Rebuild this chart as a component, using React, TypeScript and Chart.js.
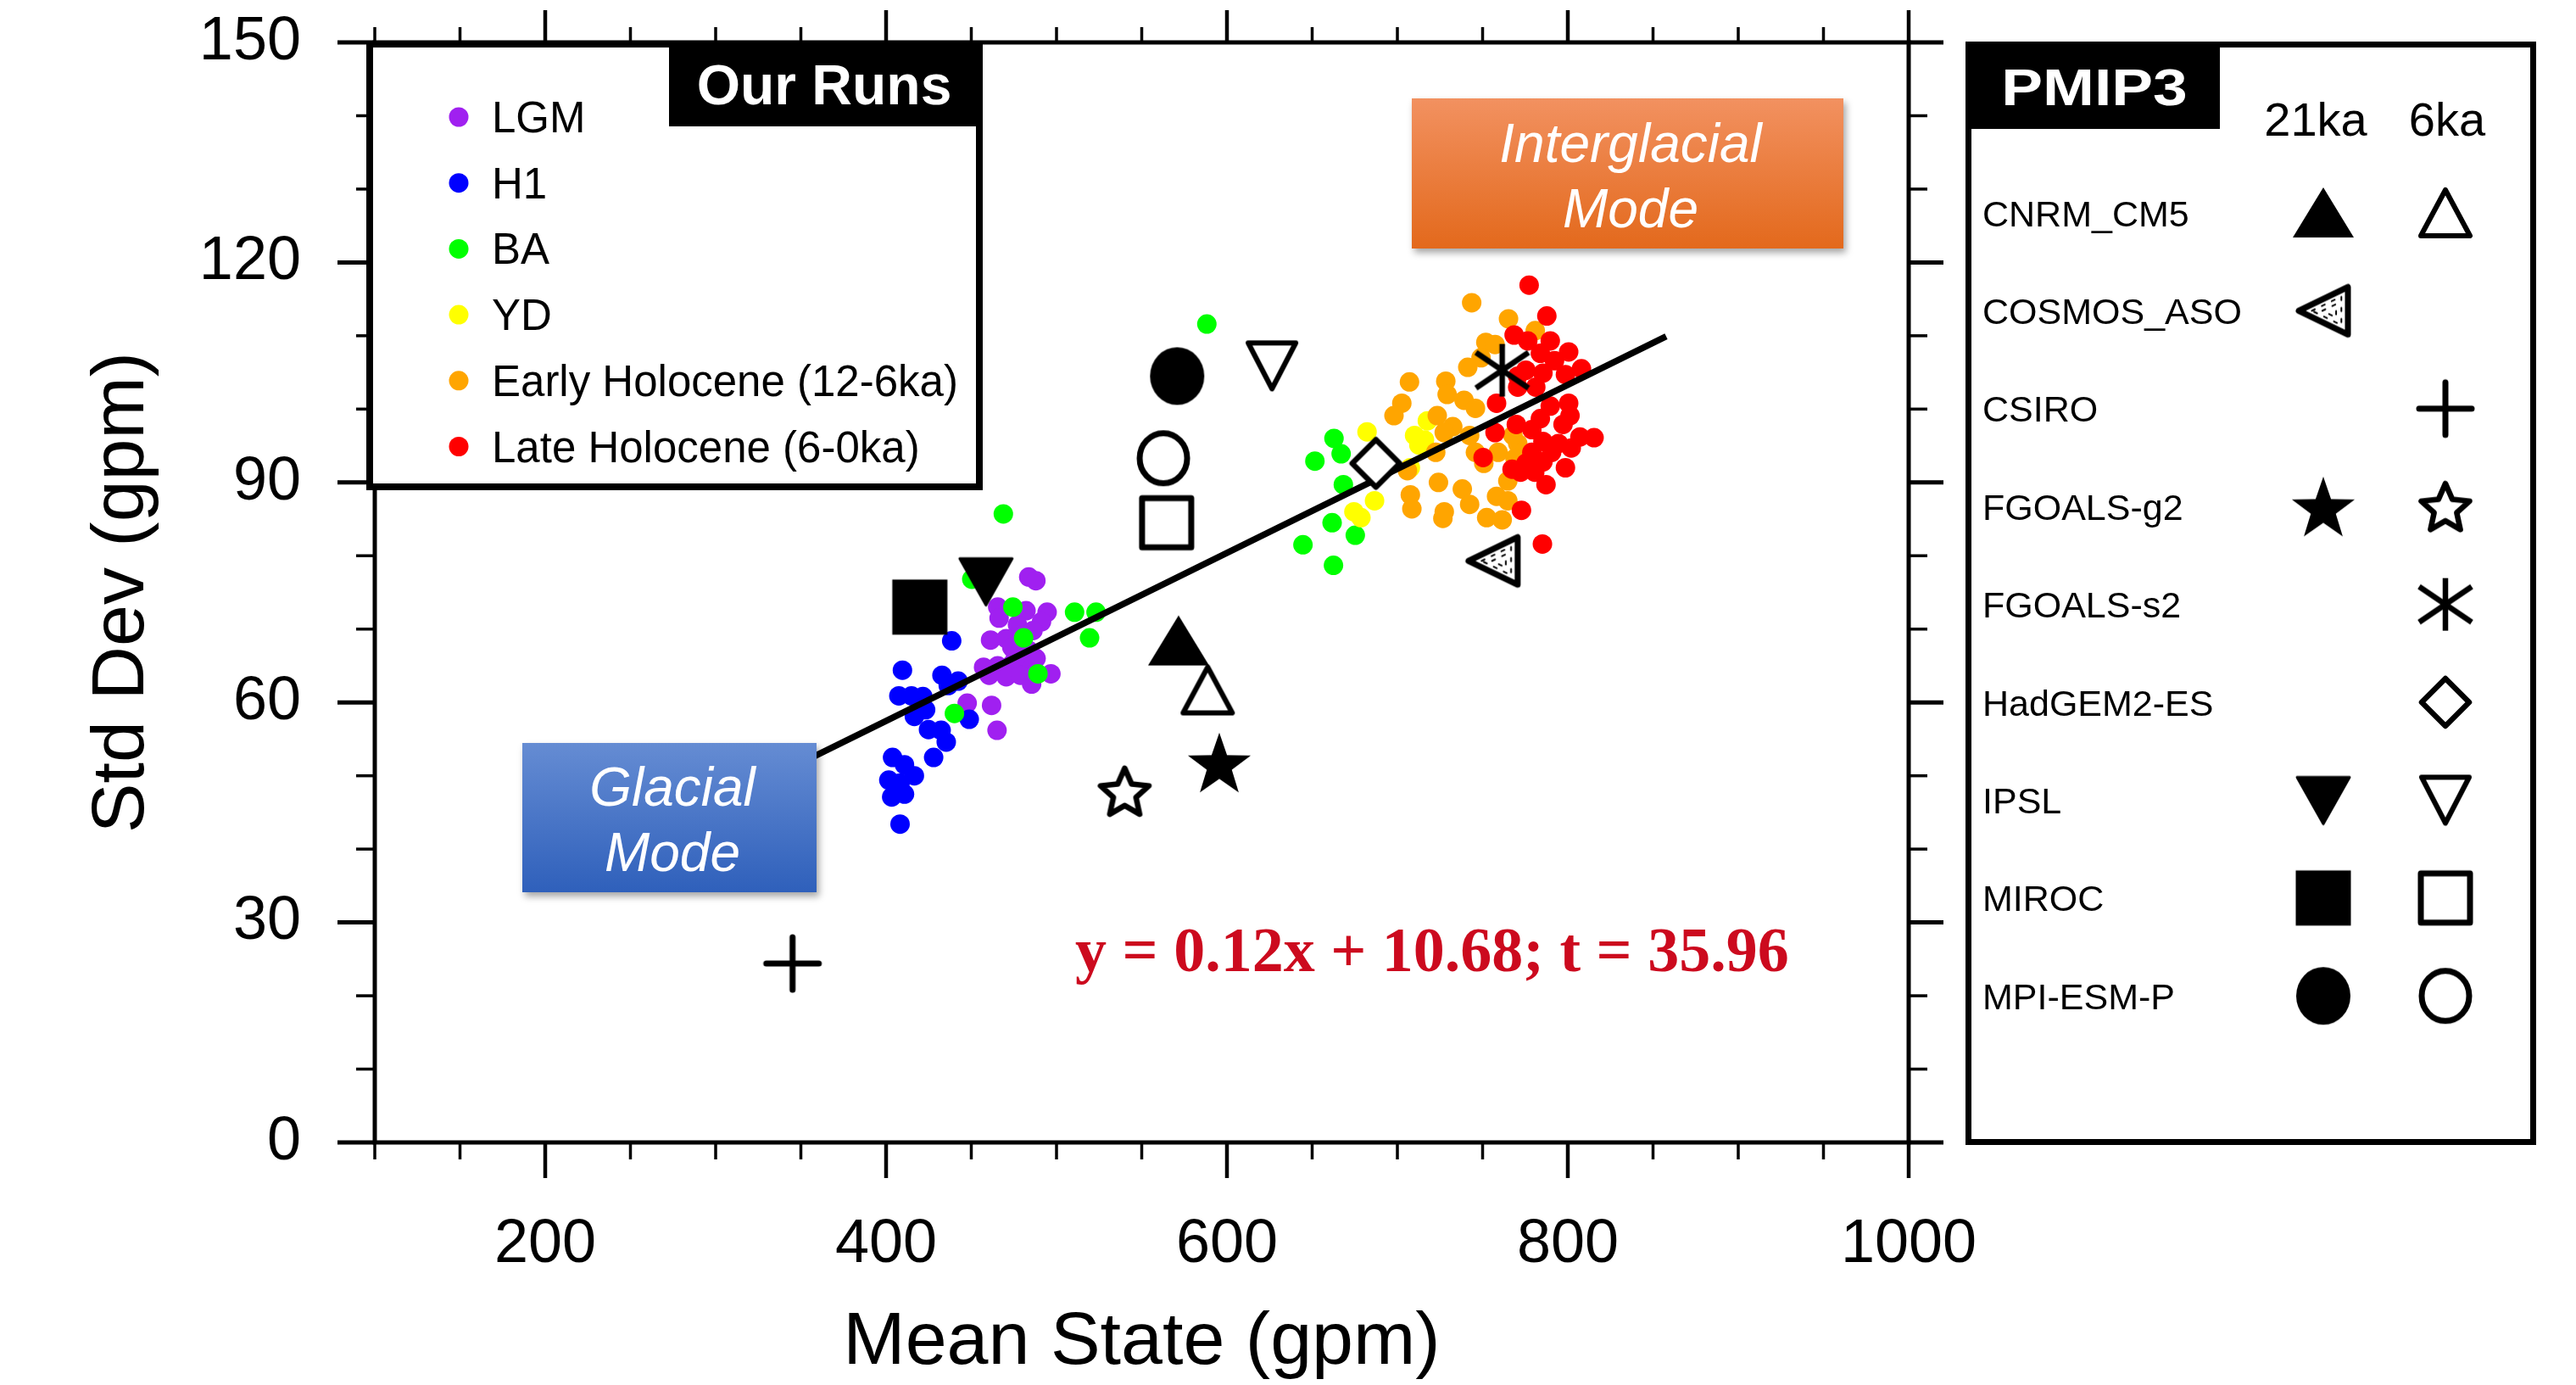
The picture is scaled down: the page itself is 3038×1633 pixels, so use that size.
import React, { useEffect, useRef } from 'react';
import { Chart, registerables } from 'chart.js';

Chart.register(...registerables);

const SANS = '"Liberation Sans", Arial, Helvetica, sans-serif';
const SERIF = '"Liberation Serif", "Times New Roman", serif';

// ---------------- Our runs ----------------
const groupLabels = ['LGM', 'H1', 'BA', 'YD', 'Early Holocene (12-6ka)', 'Late Holocene (6-0ka)'];
const groupColors = ['#a020f0', '#0000ff', '#00ff00', '#ffff00', '#ffa500', '#ff0000'];

const lgmMean = [483.7, 487.9, 465.5, 482.1, 494.5, 466.3, 477.1, 491.2, 486.2, 461.3, 470.5, 473.8, 483.7, 457.2, 465.5, 473.8, 482.1, 460.5, 470.5, 478.8, 496.7, 485.4, 447.6, 461.9, 465.1, 488.0, 476.0];
const lgmStd = [77.1, 76.6, 73.0, 72.5, 72.3, 71.5, 70.6, 71.0, 69.8, 68.5, 68.7, 67.5, 67.1, 64.8, 65.0, 65.2, 65.6, 63.7, 63.5, 63.7, 63.9, 62.5, 59.9, 59.6, 56.2, 66.0, 66.2];

const h1Mean = [438.5, 409.6, 432.8, 442.3, 436.5, 407.5, 414.9, 421.6, 423.2, 416.6, 448.8, 424.9, 432.3, 435.3, 427.9, 403.8, 410.8, 416.6, 401.6, 408.2, 410.8, 403.3, 408.2];
const h1Std = [68.4, 64.4, 63.7, 62.9, 62.3, 60.9, 60.9, 60.8, 59.0, 58.1, 57.7, 56.3, 56.2, 54.6, 52.5, 52.5, 51.5, 50.0, 49.4, 49.0, 47.5, 47.1, 43.4];

const baMean = [468.8, 450.3, 474.4, 510.6, 523.2, 519.4, 480.7, 489.1, 440.1, 588.2, 662.8, 667.0, 651.6, 668.3, 661.7, 675.3, 644.6, 662.5];
const baStd = [85.7, 76.8, 73.0, 72.3, 72.3, 68.8, 68.8, 63.9, 58.5, 111.6, 96.0, 93.9, 92.9, 89.7, 84.5, 82.8, 81.5, 78.7];

const ydMean = [682.2, 717.6, 710.1, 715.9, 712.6, 707.6, 686.6, 674.5, 678.6];
const ydStd = [96.9, 98.4, 96.4, 95.8, 95.1, 92.0, 87.5, 86.0, 85.2];

const ehMean = [743.6, 765.2, 780.9, 751.9, 757.3, 749.1, 741.3, 707.1, 728.4, 729.2, 702.6, 698.0, 723.4, 739.1, 745.8, 732.5, 727.5, 742.4, 722.5, 745.8, 759.1, 770.6, 769.0, 750.7, 705.9, 724.1, 764.8, 738.1, 707.6, 708.5, 742.4, 758.2, 764.8, 727.5, 726.7, 752.4, 761.5, 767.8];
const ehStd = [114.5, 112.3, 110.7, 109.1, 108.8, 107.0, 105.7, 103.7, 103.8, 102.0, 100.8, 99.1, 99.1, 101.2, 100.1, 97.6, 96.8, 96.4, 94.1, 94.1, 94.1, 95.3, 93.3, 92.6, 91.6, 90.0, 90.2, 89.1, 88.3, 86.4, 87.0, 88.1, 87.5, 86.0, 85.1, 85.2, 84.9, 96.4];

const lhMean = [777.3, 787.7, 768.5, 776.5, 789.7, 800.5, 783.9, 792.2, 808.0, 775.4, 785.4, 798.6, 770.6, 758.2, 800.5, 789.7, 801.3, 783.9, 769.8, 797.2, 757.3, 778.9, 807.1, 815.4, 785.4, 794.5, 802.0, 778.9, 790.5, 750.3, 775.4, 785.4, 767.3, 798.6, 772.3, 780.6, 787.2, 772.8, 785.1, 770.6, 781.2];
const lhStd = [116.9, 112.7, 110.1, 109.3, 109.3, 107.8, 107.6, 106.6, 105.5, 105.3, 104.9, 104.7, 103.0, 100.8, 100.8, 100.4, 99.1, 98.7, 97.9, 97.9, 96.8, 97.2, 96.2, 96.1, 95.6, 95.3, 94.7, 94.1, 94.1, 93.4, 92.6, 92.8, 91.8, 92.0, 91.4, 91.4, 89.7, 86.2, 81.6, 104.5, 103.0];

// ---------------- PMIP3 ----------------
const pmipModels = ['CNRM_CM5', 'COSMOS_ASO', 'CSIRO', 'FGOALS-g2', 'FGOALS-s2', 'HadGEM2-ES', 'IPSL', 'MIROC', 'MPI-ESM-P'];
const pmip21kaMean = [571.6, 756.1, null, 595.5, null, null, 458.6, 419.8, 570.8];
const pmip21kaStd = [68.4, 79.3, null, 51.8, null, null, 76.5, 73.0, 104.5];
const pmip6kaMean = [588.7, null, 345.1, 540.0, 761.5, 687.4, 626.4, 564.6, 562.7];
const pmip6kaStd = [61.7, null, 24.4, 47.9, 105.3, 92.6, 105.9, 84.5, 93.3];
const pmip21kaStyle = ['triUpFilled', 'triLeft', null, 'starFilled', null, null, 'triDownFilled', 'squareFilled', 'circleFilled'];
const pmip6kaStyle = ['triUpOpen', null, 'plus', 'starOpen', 'asterisk', 'diamond', 'triDownOpen', 'squareOpen', 'circleOpen'];
const periodLabels = ['21ka', '6ka'];

// ---------------- regression ----------------
const regressionMean = [199.5, 857.7];
const regressionStd = [34.5, 109.9];
const equationText = 'y = 0.12x + 10.68; t = 35.96';

// ---------------- axes ----------------
const xMin = 100, xMax = 1000, xStep = 50;
const yMin = 0, yMax = 150, yStep = 10;
const xTickLabels = [200, 400, 600, 800, 1000];
const yTickLabels = [0, 30, 60, 90, 120, 150];
const xTitle = 'Mean State (gpm)';
const yTitle = 'Std Dev (gpm)';

const zip = (xs: number[], ys: number[]) => xs.map((x, i) => ({ x, y: ys[i] }));

function mk(draw: (c: CanvasRenderingContext2D) => void) {
  const c = document.createElement('canvas');
  c.width = 90;
  c.height = 90;
  const ctx = c.getContext('2d')!;
  ctx.translate(45, 45);
  ctx.fillStyle = '#000';
  ctx.strokeStyle = '#000';
  ctx.lineJoin = 'round';
  ctx.lineCap = 'round';
  draw(ctx);
  return c;
}

function poly(ctx: CanvasRenderingContext2D, pts: number[][]) {
  ctx.beginPath();
  pts.forEach((p, i) => (i ? ctx.lineTo(p[0], p[1]) : ctx.moveTo(p[0], p[1])));
  ctx.closePath();
}

function starPath(ctx: CanvasRenderingContext2D, R: number, r: number) {
  const pts: number[][] = [];
  for (let k = 0; k < 10; k++) {
    const a = -Math.PI / 2 + (k * Math.PI) / 5;
    const rad = k % 2 === 0 ? R : r;
    pts.push([Math.cos(a) * rad, Math.sin(a) * rad]);
  }
  poly(ctx, pts);
}

function buildMarkers(): Record<string, HTMLCanvasElement> {
  return {
    triUpFilled: mk((c) => { poly(c, [[0, -30], [36, 29], [-36, 29]]); c.fill(); }),
    triUpOpen: mk((c) => { poly(c, [[0, -27], [29, 27], [-29, 27]]); c.fillStyle = '#fff'; c.fill(); c.lineWidth = 6; c.stroke(); }),
    triDownFilled: mk((c) => { poly(c, [[-31, -27], [31, -27], [0, 28]]); c.fill(); c.lineWidth = 3; c.stroke(); }),
    triDownOpen: mk((c) => { poly(c, [[-28, -27], [28, -27], [0, 27]]); c.fillStyle = '#fff'; c.fill(); c.lineWidth = 6; c.stroke(); }),
    triLeft: mk((c) => {
      const base = [[-29, 0], [29, -28], [29, 28]];
      poly(c, base); c.fillStyle = '#fff'; c.fill(); c.lineWidth = 7; c.stroke();
      const cx = 9.7;
      [0.6, 0.28].forEach((s) => {
        poly(c, base.map((p) => [cx + (p[0] - cx) * s, p[1] * s]));
        c.lineWidth = 2; c.setLineDash([4, 9]); c.stroke();
      });
      c.setLineDash([]);
    }),
    plus: mk((c) => {
      c.lineWidth = 7; c.beginPath(); c.moveTo(-31, 0); c.lineTo(31, 0); c.moveTo(0, -31); c.lineTo(0, 31); c.stroke();
    }),
    starFilled: mk((c) => { c.translate(0, 3.7); starPath(c, 39, 15.5); c.fill(); }),
    starOpen: mk((c) => { c.translate(0, 2.9); starPath(c, 30, 14); c.fillStyle = '#fff'; c.fill(); c.lineWidth = 6.5; c.stroke(); }),
    asterisk: mk((c) => {
      c.lineWidth = 6.5; c.lineCap = 'butt'; c.beginPath();
      c.moveTo(0, -31); c.lineTo(0, 31);
      c.moveTo(-31, -21); c.lineTo(31, 21);
      c.moveTo(-31, 21); c.lineTo(31, -21);
      c.stroke();
    }),
    diamond: mk((c) => { poly(c, [[0, -28], [28, 0], [0, 28], [-28, 0]]); c.fillStyle = '#fff'; c.fill(); c.lineWidth = 6.5; c.stroke(); }),
    squareFilled: mk((c) => { c.fillRect(-32.5, -32.5, 65, 65); }),
    squareOpen: mk((c) => { c.beginPath(); c.rect(-29, -29, 58, 58); c.fillStyle = '#fff'; c.fill(); c.lineWidth = 7; c.stroke(); }),
    circleFilled: mk((c) => { c.beginPath(); c.ellipse(0, 0, 32, 34, 0, 0, Math.PI * 2); c.fill(); }),
    circleOpen: mk((c) => { c.beginPath(); c.ellipse(0, 0, 28, 29.5, 0, 0, Math.PI * 2); c.fillStyle = '#fff'; c.fill(); c.lineWidth = 7; c.stroke(); }),
  };
}

export default function App() {
  const ref = useRef<HTMLCanvasElement>(null);

  useEffect(() => {
    document.body.style.margin = '0';
    const canvas = ref.current!;
    const markers = buildMarkers();

    const groupMeans = [lgmMean, h1Mean, baMean, ydMean, ehMean, lhMean];
    const groupStds = [lgmStd, h1Std, baStd, ydStd, ehStd, lhStd];

    const datasets: any[] = [];
    groupLabels.forEach((label, i) => {
      datasets.push({
        label,
        data: zip(groupMeans[i], groupStds[i]),
        backgroundColor: groupColors[i],
        borderWidth: 0,
        pointRadius: 11.5,
        pointHoverRadius: 11.5,
        order: 20 - i,
      });
    });
    datasets.push({
      label: 'regression',
      data: zip(regressionMean, regressionStd),
      showLine: true,
      borderColor: '#000',
      borderWidth: 7.5,
      pointRadius: 0,
      pointHoverRadius: 0,
      fill: false,
      order: 2,
    });
    const periodMeans = [pmip21kaMean, pmip6kaMean];
    const periodStds = [pmip21kaStd, pmip6kaStd];
    const periodStyles = [pmip21kaStyle, pmip6kaStyle];
    pmipModels.forEach((m, i) => {
      [0, 1].forEach((p) => {
        const mx = periodMeans[p][i];
        const st = periodStyles[p][i];
        if (mx === null || !st) return;
        datasets.push({
          label: m + ' ' + periodLabels[p],
          data: [{ x: mx, y: periodStds[p][i] }],
          pointStyle: markers[st],
          pointRadius: 33,
          pointHoverRadius: 33,
          order: 1,
        });
      });
    });

    const overlay = {
      id: 'overlay',
      afterDraw(chart: any) {
        const ctx: CanvasRenderingContext2D = chart.ctx;
        const xs = chart.scales.x;
        const ys = chart.scales.y;
        const { left, right, top, bottom } = chart.chartArea;
        ctx.save();
        ctx.strokeStyle = '#000';
        ctx.lineCap = 'butt';
        const seg = (x1: number, y1: number, x2: number, y2: number) => {
          ctx.beginPath(); ctx.moveTo(x1, y1); ctx.lineTo(x2, y2); ctx.stroke();
        };
        xs.ticks.forEach((t: any) => {
          const px = xs.getPixelForValue(t.value);
          const major = xTickLabels.includes(t.value);
          ctx.lineWidth = major ? 4.5 : 3.5;
          seg(px, bottom, px, bottom + (major ? 42 : 20));
          seg(px, top, px, top - (major ? 38 : 18));
        });
        ys.ticks.forEach((t: any) => {
          const py = ys.getPixelForValue(t.value);
          const major = yTickLabels.includes(t.value);
          ctx.lineWidth = major ? 5 : 3.5;
          seg(left, py, left - (major ? 44 : 22), py);
          seg(right, py, right + (major ? 41 : 22), py);
        });
        ctx.lineWidth = 5;
        ctx.strokeRect(left, top, right - left, bottom - top);

        // ---- Our Runs legend ----
        ctx.fillStyle = '#fff';
        ctx.fillRect(432, 48, 727, 530);
        ctx.lineWidth = 8;
        ctx.strokeRect(436, 52, 719, 522);
        ctx.fillStyle = '#000';
        ctx.fillRect(789, 48, 370, 101);
        ctx.fillStyle = '#fff';
        ctx.font = 'bold 66px ' + SANS;
        ctx.textAlign = 'center';
        ctx.textBaseline = 'alphabetic';
        ctx.fillText('Our Runs', 972, 123);
        ctx.textAlign = 'left';
        ctx.font = '51px ' + SANS;
        groupLabels.forEach((label, i) => {
          const cy = 138 + i * 77.7;
          ctx.fillStyle = groupColors[i];
          ctx.beginPath();
          ctx.arc(541, cy, 11.5, 0, Math.PI * 2);
          ctx.fill();
          ctx.fillStyle = '#000';
          ctx.fillText(label, 580, cy + 18);
        });

        // ---- mode boxes ----
        const modeBox = (x: number, y: number, w: number, h: number, c1: string, c2: string, l1: string, l2: string, tx: number, b1: number, b2: number) => {
          ctx.save();
          const g = ctx.createLinearGradient(0, y, 0, y + h);
          g.addColorStop(0, c1);
          g.addColorStop(1, c2);
          ctx.shadowColor = 'rgba(0,0,0,0.35)';
          ctx.shadowBlur = 8;
          ctx.shadowOffsetX = 3;
          ctx.shadowOffsetY = 5;
          ctx.fillStyle = g;
          ctx.fillRect(x, y, w, h);
          ctx.restore();
          ctx.fillStyle = '#fff';
          ctx.font = 'italic 64px ' + SANS;
          ctx.textAlign = 'center';
          ctx.fillText(l1, tx, b1);
          ctx.fillText(l2, tx, b2);
        };
        modeBox(616, 876, 347, 176, '#658cd3', '#2f60bb', 'Glacial', 'Mode', 793, 950, 1027);
        modeBox(1665, 116, 509, 177, '#f29160', '#e3691c', 'Interglacial', 'Mode', 1923, 191, 268);

        // ---- equation ----
        ctx.fillStyle = '#cc0a1e';
        ctx.font = 'bold 74px ' + SERIF;
        ctx.textAlign = 'left';
        ctx.fillText(equationText, 1268, 1145);

        // ---- PMIP3 legend ----
        ctx.fillStyle = '#fff';
        ctx.fillRect(2318, 49, 673, 1301);
        ctx.lineWidth = 7;
        ctx.strokeStyle = '#000';
        ctx.strokeRect(2321.5, 52.5, 666, 1294);
        ctx.fillStyle = '#000';
        ctx.fillRect(2318, 49, 300, 103);
        ctx.save();
        ctx.translate(2470, 124);
        ctx.scale(1.18, 1);
        ctx.fillStyle = '#fff';
        ctx.font = 'bold 62px ' + SANS;
        ctx.textAlign = 'center';
        ctx.fillText('PMIP3', 0, 0);
        ctx.restore();
        ctx.fillStyle = '#000';
        ctx.font = '56px ' + SANS;
        ctx.textAlign = 'center';
        ctx.fillText(periodLabels[0], 2731, 160);
        ctx.fillText(periodLabels[1], 2886, 160);
        ctx.textAlign = 'left';
        ctx.font = '43px ' + SANS;
        const colX = [2740, 2884];
        pmipModels.forEach((m, i) => {
          const cy = 251 + i * 115.4;
          ctx.fillStyle = '#000';
          ctx.fillText(m, 2338, cy + 15.5);
          [0, 1].forEach((p) => {
            const st = periodStyles[p][i];
            if (!st) return;
            const im = markers[st];
            ctx.drawImage(im, colX[p] - im.width / 2, cy - im.height / 2);
          });
        });
        ctx.restore();
      },
    };

    const zeroPad = (s: any) => {
      s.paddingTop = 0;
      s.paddingBottom = 0;
      s.paddingLeft = 0;
      s.paddingRight = 0;
    };

    const chart = new Chart(canvas, {
      type: 'scatter',
      data: { datasets },
      options: {
        responsive: false,
        animation: false,
        devicePixelRatio: 1,
        layout: { padding: { top: 50, right: 787, left: 0, bottom: 0 } },
        plugins: { legend: { display: false }, tooltip: { enabled: false } },
        events: [],
        scales: {
          x: {
            type: 'linear',
            min: xMin,
            max: xMax,
            grid: { display: false, drawTicks: false },
            border: { display: false },
            ticks: {
              stepSize: xStep,
              autoSkip: false,
              maxRotation: 0,
              padding: 78,
              color: '#000',
              font: { family: SANS, size: 72 },
              callback: (v: any) => (xTickLabels.includes(Number(v)) ? String(v) : ''),
            },
            title: { display: true, text: xTitle, color: '#000', font: { family: SANS, size: 88 }, padding: { top: 0, bottom: -4 } },
            afterFit: (s: any) => { s.height = 286; zeroPad(s); },
          },
          y: {
            type: 'linear',
            min: yMin,
            max: yMax,
            grid: { display: false, drawTicks: false },
            border: { display: false },
            ticks: {
              stepSize: yStep,
              autoSkip: false,
              padding: 87,
              color: '#000',
              font: { family: SANS, size: 72 },
              callback: (v: any) => (yTickLabels.includes(Number(v)) ? String(v) : ''),
            },
            title: { display: true, text: yTitle, color: '#000', font: { family: SANS, size: 88 }, padding: { top: 92, bottom: 0 } },
            afterFit: (s: any) => { s.width = 442; zeroPad(s); },
          },
        },
      } as any,
      plugins: [overlay],
    });
    return () => chart.destroy();
  }, []);

  return (
    <div style={{ position: 'fixed', left: 0, top: 0, width: 3038, height: 1633, background: '#fff' }}>
      <canvas ref={ref} width={3038} height={1633} style={{ display: 'block', width: 3038, height: 1633 }} />
    </div>
  );
}
